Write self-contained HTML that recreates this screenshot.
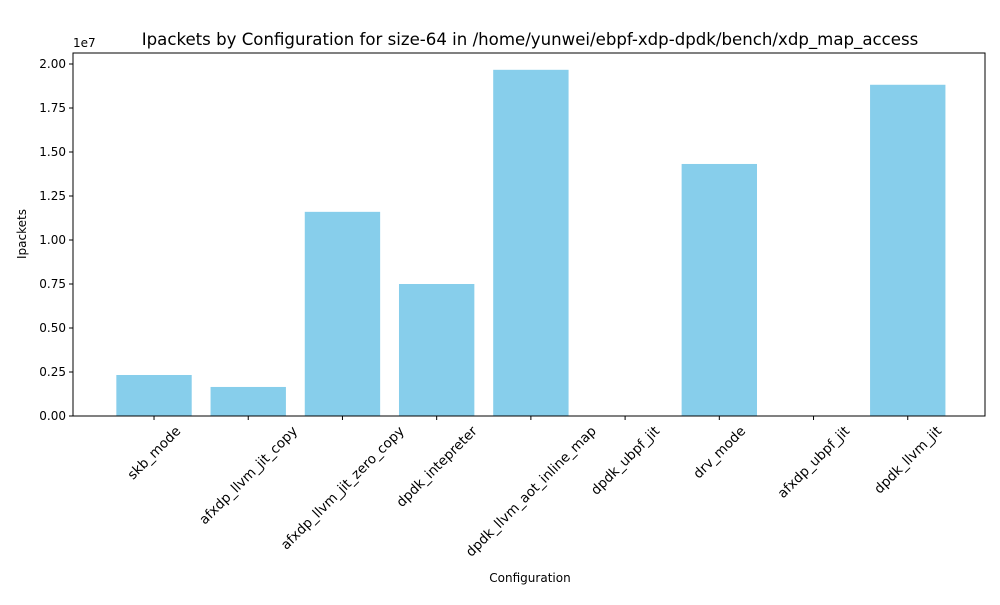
<!DOCTYPE html>
<html><head><meta charset="utf-8"><style>
body{margin:0;background:#fff;font-family:"Liberation Sans","DejaVu Sans",sans-serif}
svg text{font-family:"DejaVu Sans","Liberation Sans",sans-serif;fill:#000}
</style></head><body>
<svg id="chart" width="1000" height="600">
<text x="530" y="45" font-size="16.6" text-anchor="middle">Ipackets by Configuration for size-64 in /home/yunwei/ebpf-xdp-dpdk/bench/xdp_map_access</text>
<g id="bars"></g>
<g id="xticks"></g>
<g id="yticks"></g>
<rect x="73" y="53" width="912" height="363" fill="none" stroke="#000" stroke-width="1"/>
<text x="73" y="47" font-size="12">1e7</text>
<text x="530" y="582" font-size="12" text-anchor="middle">Configuration</text>
<text transform="translate(26,234) rotate(-90)" font-size="12" text-anchor="middle">Ipackets</text>
</svg>
<script>
const categories=["skb_mode","afxdp_llvm_jit_copy","afxdp_llvm_jit_zero_copy","dpdk_intepreter","dpdk_llvm_aot_inline_map","dpdk_ubpf_jit","drv_mode","afxdp_ubpf_jit","dpdk_llvm_jit"];
const values=[2.33e6,1.65e6,11.6e6,7.5e6,19.67e6,0,14.32e6,0,18.82e6];
const yTicks=[0,0.25e7,0.5e7,0.75e7,1.0e7,1.25e7,1.5e7,1.75e7,2.0e7];
const yTickLabels=["0.00","0.25","0.50","0.75","1.00","1.25","1.50","1.75","2.00"];
const NS="http://www.w3.org/2000/svg";
const L=73,R=985,T=53,B=416;
const xmin=-0.86,xmax=categories.length-1+0.82;
const xs=i=>L+(i-xmin)/(xmax-xmin)*(R-L);
const ys=v=>B-v/2e7*352;
const bw=0.8*(R-L)/(xmax-xmin);
const bars=document.getElementById('bars'),xt=document.getElementById('xticks'),yt=document.getElementById('yticks');
categories.forEach((c,i)=>{
 const r=document.createElementNS(NS,'rect');
 r.setAttribute('x',xs(i)-bw/2);r.setAttribute('width',bw);
 r.setAttribute('y',ys(values[i]));r.setAttribute('height',B-ys(values[i]));
 r.setAttribute('fill','#87ceeb');
 
 
 bars.appendChild(r);
 const l=document.createElementNS(NS,'line');
 l.setAttribute('x1',xs(i));l.setAttribute('x2',xs(i));l.setAttribute('y1',B);l.setAttribute('y2',B+4);l.setAttribute('stroke','#000');
 
 
 xt.appendChild(l);
 const t=document.createElementNS(NS,'text');
 t.setAttribute('font-size','13.5');t.setAttribute('text-anchor','middle');
 t.textContent=c;
 
 
 xt.appendChild(t);
 const len=t.getComputedTextLength();
 const half=(len+13)*0.7071/2;
 t.setAttribute('transform','translate('+xs(i)+','+(B+8+half)+') rotate(-45) translate(0,4.5)');
});
yTicks.forEach((v,i)=>{
 const l=document.createElementNS(NS,'line');
 l.setAttribute('x1',L-4);l.setAttribute('x2',L);l.setAttribute('y1',ys(v));l.setAttribute('y2',ys(v));l.setAttribute('stroke','#000');
 
 
 yt.appendChild(l);
 const t=document.createElementNS(NS,'text');
 t.setAttribute('x',L-7);t.setAttribute('y',ys(v)+4);t.setAttribute('font-size','12');t.setAttribute('text-anchor','end');
 t.textContent=yTickLabels[i];
 
 
 yt.appendChild(t);
});
</script>
</body></html>
